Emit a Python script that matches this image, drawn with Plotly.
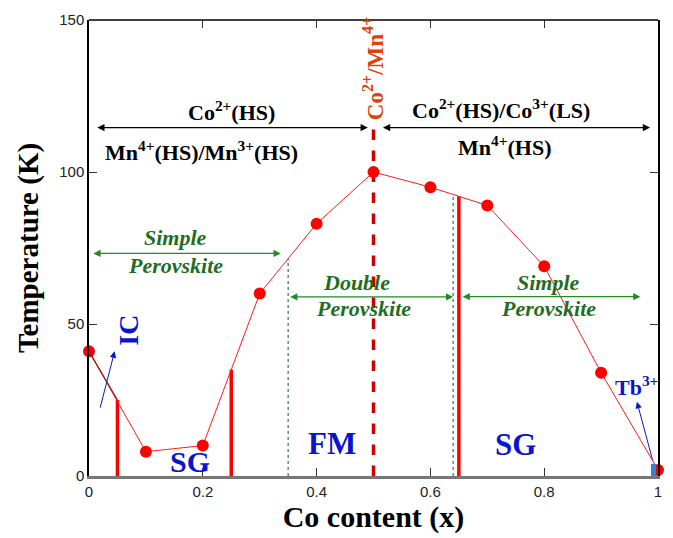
import plotly.graph_objects as go

# ---- data ----
co_content = [0.0, 0.1, 0.2, 0.3, 0.4, 0.5, 0.6, 0.7, 0.8, 0.9, 1.0]
temperature = [41, 8, 10, 60, 83, 100, 95, 89, 69, 34, 2]

# thick red phase boundaries: x, top temperature
boundary_x = [0.05, 0.25, 0.65]
boundary_top = [25, 35, 92]
# green dotted structural boundaries
struct_x = [0.35, 0.64]
struct_top = [71.5, 92.6]
# dashed Co2+/Mn4+ line
dash_x = 0.5
dash_top = 117

x_ticks = [0, 0.2, 0.4, 0.6, 0.8, 1]
y_ticks = [0, 50, 100, 150]

SERIF = "Liberation Serif"
SANS = "Liberation Sans"
GREEN = "#1f6e1f"
GREEN_ARROW = "#228b22"
BLUE = "#0a14d0"

fig = go.Figure()

# boundaries
bx, by = [], []
for x, t in zip(boundary_x, boundary_top):
    bx += [x, x, None]
    by += [0, t, None]
fig.add_trace(go.Scatter(x=bx, y=by, mode="lines", line=dict(color="#ff0000", width=3.5),
                         hoverinfo="skip", cliponaxis=False))
sx, sy = [], []
for x, t in zip(struct_x, struct_top):
    sx += [x, x, None]
    sy += [0, t, None]
fig.add_trace(go.Scatter(x=sx, y=sy, mode="lines", line=dict(color="#2e7d32", width=1.2, dash="dot"),
                         hoverinfo="skip"))
fig.add_trace(go.Scatter(x=[dash_x, dash_x], y=[0, dash_top], mode="lines",
                         line=dict(color="#cc0000", width=3.5, dash="dash"), hoverinfo="skip"))

# main curve
fig.add_trace(go.Scatter(x=co_content, y=temperature, mode="lines+markers",
                         line=dict(color="#ff1a1a", width=1),
                         marker=dict(color="#ff0000", size=12),
                         cliponaxis=False))
fig.add_trace(go.Scatter(x=[0.0, 0.05], y=[41, 25], mode="lines",
                         line=dict(color="#a01010", width=1.2), hoverinfo="skip"))

# small blue block at x=1
fig.add_trace(go.Scatter(x=[0.992, 0.992], y=[0, 4], mode="lines",
                         line=dict(color="#3a7fd5", width=5), hoverinfo="skip", cliponaxis=False))

annotations = []

def txt(x, y, s, size, color="black", angle=0, family=SERIF):
    annotations.append(dict(x=x, y=y, xref="x", yref="y", text=s, showarrow=False,
                            font=dict(family=family, size=size, color=color), textangle=angle))

def arrow(x0, x1, y0, y1, color, both=True, width=1.2, head=2, size=1.2):
    annotations.append(dict(x=x1, y=y1, ax=x0, ay=y0, xref="x", yref="y", axref="x", ayref="y",
                            text="", showarrow=True, arrowhead=head, startarrowhead=head,
                            arrowside="end+start" if both else "end",
                            arrowsize=size, startarrowsize=size,
                            arrowwidth=width, arrowcolor=color))

# black two-headed arrows
arrow(0.012, 0.49, 114.6, 114.6, "black")
arrow(0.514, 0.986, 114.6, 114.6, "black")
txt(0.25, 120.2, "<b>Co<sup>2+</sup>(HS)</b>", 22)
txt(0.197, 107.0, "<b>Mn<sup>4+</sup>(HS)/Mn<sup>3+</sup>(HS)</b>", 22)
txt(0.724, 120.7, "<b>Co<sup>2+</sup>(HS)/Co<sup>3+</sup>(LS)</b>", 22)
txt(0.73, 108.6, "<b>Mn<sup>4+</sup>(HS)</b>", 22)

# orange vertical label
txt(0.5, 134, "<b>Co<sup>2+</sup>/Mn<sup>4+</sup></b>", 23, color="#e0400a", angle=-90)

# green arrows & labels
arrow(0.005, 0.337, 73.2, 73.2, GREEN_ARROW)
arrow(0.351, 0.64, 58.9, 58.9, GREEN_ARROW)
arrow(0.654, 0.969, 59, 59, GREEN_ARROW)
txt(0.152, 78.3, "<b><i>Simple</i></b>", 22, GREEN)
txt(0.152, 69.3, "<b><i>Perovskite</i></b>", 22, GREEN)
txt(0.47, 63.8, "<b><i>Double</i></b>", 22, GREEN)
txt(0.482, 55.2, "<b><i>Perovskite</i></b>", 22, GREEN)
txt(0.808, 63.8, "<b><i>Simple</i></b>", 22, GREEN)
txt(0.808, 55.2, "<b><i>Perovskite</i></b>", 22, GREEN)

# blue labels
txt(0.068, 48, "<b>IC</b>", 28, BLUE, angle=-90)
txt(0.177, 4.8, "<b>SG</b>", 30, BLUE)
txt(0.427, 10.7, "<b>FM</b>", 31, BLUE)
txt(0.75, 10.5, "<b>SG</b>", 31, BLUE)
txt(0.963, 29.5, "<b>Tb<sup>3+</sup></b>", 22, BLUE)
arrow(0.019, 0.045, 22, 41, BLUE, both=False, width=1, head=2, size=1.3)
arrow(0.991, 0.963, 4.9, 24.4, BLUE, both=False, width=1, head=2, size=1.3)

fig.update_layout(
    width=673, height=538,
    margin=dict(l=89, r=11, t=17, b=60),
    plot_bgcolor="white", paper_bgcolor="white",
    showlegend=False,
    annotations=annotations,
    xaxis=dict(range=[0, 1], tickvals=x_ticks, ticks="inside", ticklen=8, tickcolor="#333",
               showline=True, linecolor="#777", linewidth=2.5, mirror=False, showgrid=False,
               zeroline=False, tickfont=dict(family=SANS, size=15, color="#222"),
               title=dict(text="<b>Co content (x)</b>", font=dict(family=SERIF, size=30, color="black"),
                          standoff=6)),
    yaxis=dict(range=[0, 150], tickvals=y_ticks, ticks="inside", ticklen=8, tickcolor="#333",
               showline=True, linecolor="black", linewidth=1.5, mirror="ticks", showgrid=False,
               zeroline=False, tickfont=dict(family=SANS, size=15, color="#222"),
               title=dict(text="<b>Temperature (K)</b>", font=dict(family=SERIF, size=29, color="black"),
                          standoff=12)),
    shapes=[dict(type="line", xref="paper", yref="paper", x0=0, x1=1, y0=1, y1=1,
                 line=dict(color="black", width=1.5))],
)
# top ticks via a secondary overlaying axis
fig.update_layout(xaxis2=dict(range=[0, 1], tickvals=x_ticks, ticks="inside", ticklen=8,
                              overlaying="x", side="top", showticklabels=False, showgrid=False,
                              zeroline=False, tickcolor="#333"))
fig.add_trace(go.Scatter(x=[None], y=[None], xaxis="x2", showlegend=False))

fig.write_html("out.html")
